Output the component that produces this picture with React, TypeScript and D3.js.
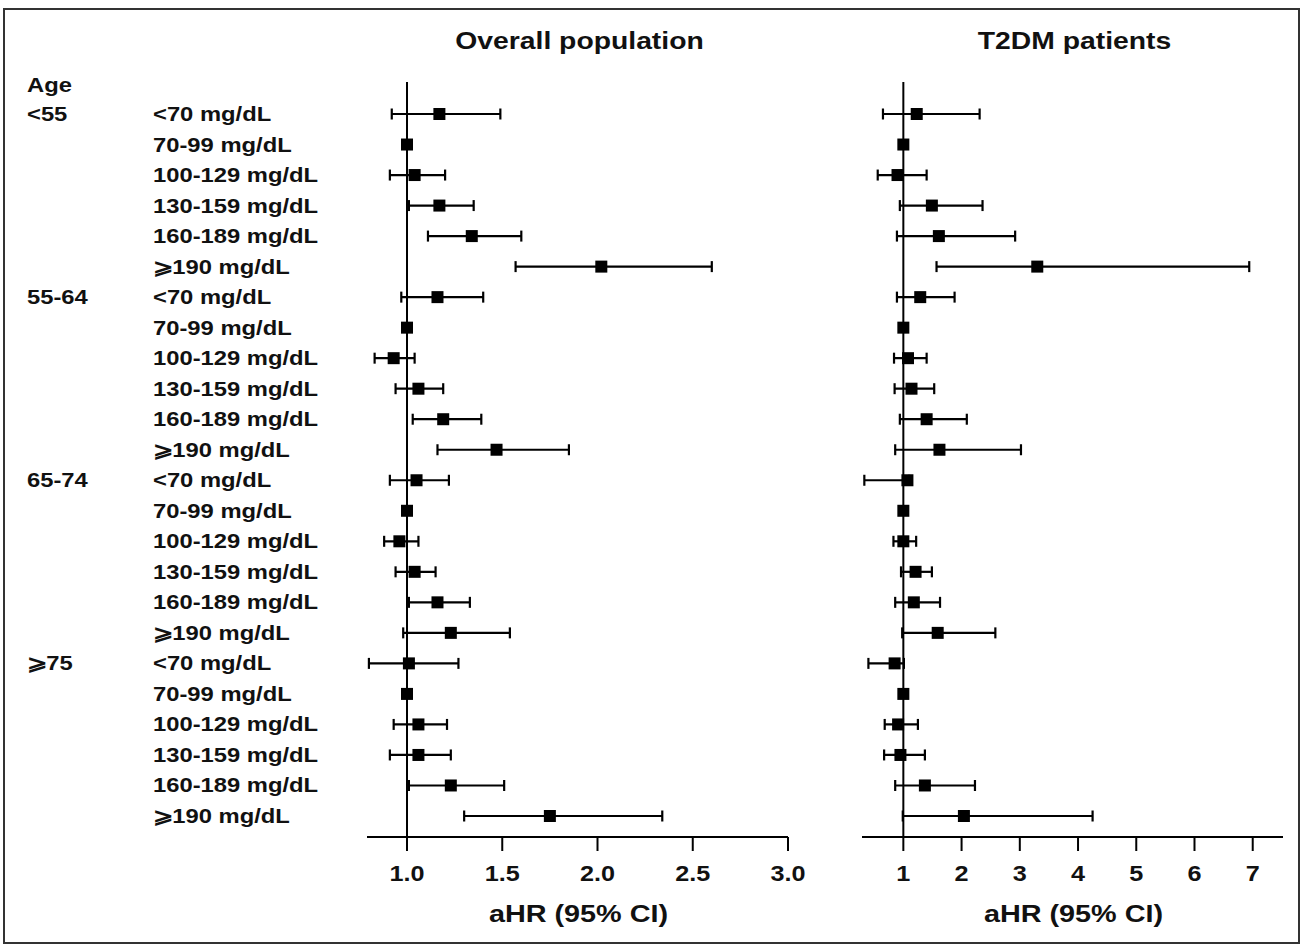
import React from 'react';
import * as d3 from 'd3';

const ageGroups = ['<55', '55-64', '65-74', '\u2A7E75'];
const ldlLevels = ['<70 mg/dL', '70-99 mg/dL', '100-129 mg/dL', '130-159 mg/dL', '160-189 mg/dL', '\u2A7E190 mg/dL'];

// overall population, rows in age x LDL order (70-99 is the reference)
const overallHR = [1.17, 1.0, 1.04, 1.17, 1.34, 2.02, 1.16, 1.0, 0.93, 1.06, 1.19, 1.47, 1.05, 1.0, 0.96, 1.04, 1.16, 1.23, 1.01, 1.0, 1.06, 1.06, 1.23, 1.75];
const overallLow = [0.92, null, 0.91, 1.01, 1.11, 1.57, 0.97, null, 0.83, 0.94, 1.03, 1.16, 0.91, null, 0.88, 0.94, 1.01, 0.98, 0.8, null, 0.93, 0.91, 1.01, 1.3];
const overallHigh = [1.49, null, 1.2, 1.35, 1.6, 2.6, 1.4, null, 1.04, 1.19, 1.39, 1.85, 1.22, null, 1.06, 1.15, 1.33, 1.54, 1.27, null, 1.21, 1.23, 1.51, 2.34];

// T2DM patients
const t2dmHR = [1.23, 1.0, 0.9, 1.49, 1.61, 3.3, 1.29, 1.0, 1.08, 1.14, 1.4, 1.62, 1.07, 1.0, 1.0, 1.21, 1.18, 1.59, 0.85, 1.0, 0.91, 0.95, 1.37, 2.04];
const t2dmLow = [0.65, null, 0.56, 0.94, 0.89, 1.57, 0.89, null, 0.84, 0.85, 0.94, 0.86, 0.33, null, 0.83, 0.96, 0.86, 0.98, 0.4, null, 0.68, 0.67, 0.86, 0.99];
const t2dmHigh = [2.31, null, 1.4, 2.36, 2.92, 6.94, 1.88, null, 1.4, 1.53, 2.09, 3.02, 1.1, null, 1.22, 1.49, 1.63, 2.58, 1.01, null, 1.25, 1.37, 2.23, 4.25];

const overallTicks = [1.0, 1.5, 2.0, 2.5, 3.0];
const t2dmTicks = [1, 2, 3, 4, 5, 6, 7];

const W = 1303;
const H = 946;
const FONT = "'Liberation Sans', Arial, Helvetica, sans-serif";

const rows = ageGroups.flatMap((age, gi) =>
  ldlLevels.map((ldl, li) => ({ age: li === 0 ? age : '', ldl, i: gi * ldlLevels.length + li }))
);

function Label({ x, y, children, size = 20.5, anchor = 'start', sx = 1.16 }: any) {
  return (
    <text
      transform={`translate(${x},${y}) scale(${sx},1)`}
      fontFamily={FONT}
      fontWeight="bold"
      fontSize={size}
      textAnchor={anchor}
      fill="#111"
    >
      {children}
    </text>
  );
}

function Panel({ title, x, hr, low, high, ticks, fmt, y }: any) {
  const axisY = 837;
  const top = 82;
  const refX = x(1);
  const [r0, r1] = x.range();
  return (
    <g>
      <Label x={(r0 + r1) / 2 + 2} y={49} size={24} sx={1.18} anchor="middle">{title}</Label>
      <line x1={refX} x2={refX} y1={top} y2={axisY} stroke="#000" strokeWidth={2} />
      {rows.map(r => {
        const cy = y(r.i);
        const lo = low[r.i];
        const hi = high[r.i];
        return (
          <g key={r.i}>
            {lo != null && (
              <g stroke="#000" strokeWidth={2.2}>
                <line x1={x(lo)} x2={x(hi)} y1={cy} y2={cy} />
                <line x1={x(lo)} x2={x(lo)} y1={cy - 5.5} y2={cy + 5.5} />
                <line x1={x(hi)} x2={x(hi)} y1={cy - 5.5} y2={cy + 5.5} />
              </g>
            )}
            <rect x={x(hr[r.i]) - 6} y={cy - 6} width={12} height={12} fill="#000" />
          </g>
        );
      })}
      <line x1={r0} x2={r1} y1={axisY} y2={axisY} stroke="#000" strokeWidth={2} />
      {ticks.map((t: number) => (
        <g key={t}>
          <line x1={x(t)} x2={x(t)} y1={axisY} y2={axisY + 14} stroke="#000" strokeWidth={2} />
          <Label x={x(t)} y={881} size={22.5} sx={1.12} anchor="middle">{fmt(t)}</Label>
        </g>
      ))}
      <Label x={(r0 + r1) / 2 + 1} y={922} size={24} sx={1.2} anchor="middle">aHR (95% CI)</Label>
    </g>
  );
}

export default function App() {
  const y = d3.scaleLinear().domain([0, rows.length - 1]).range([114, 816]);
  const xOverall = d3.scaleLinear().domain([0.79, 3.0]).range([367, 788]);
  const xT2dm = d3.scaleLinear().domain([0.29, 7.52]).range([862, 1283]);

  return (
    <svg width={W} height={H} style={{ position: 'absolute', left: 0, top: 0, background: '#fff' }}>
      <rect x={4} y={9} width={1295} height={934} fill="#fff" stroke="#333" strokeWidth={2} />
      <Label x={27} y={92}>Age</Label>
      {rows.map(r => (
        <g key={r.i}>
          {r.age && <Label x={27} y={y(r.i) + 7}>{r.age}</Label>}
          <Label x={153} y={y(r.i) + 7}>{r.ldl}</Label>
        </g>
      ))}
      <Panel title="Overall population" x={xOverall} y={y} hr={overallHR} low={overallLow} high={overallHigh}
        ticks={overallTicks} fmt={d3.format('.1f')} />
      <Panel title="T2DM patients" x={xT2dm} y={y} hr={t2dmHR} low={t2dmLow} high={t2dmHigh}
        ticks={t2dmTicks} fmt={d3.format('d')} />
    </svg>
  );
}
